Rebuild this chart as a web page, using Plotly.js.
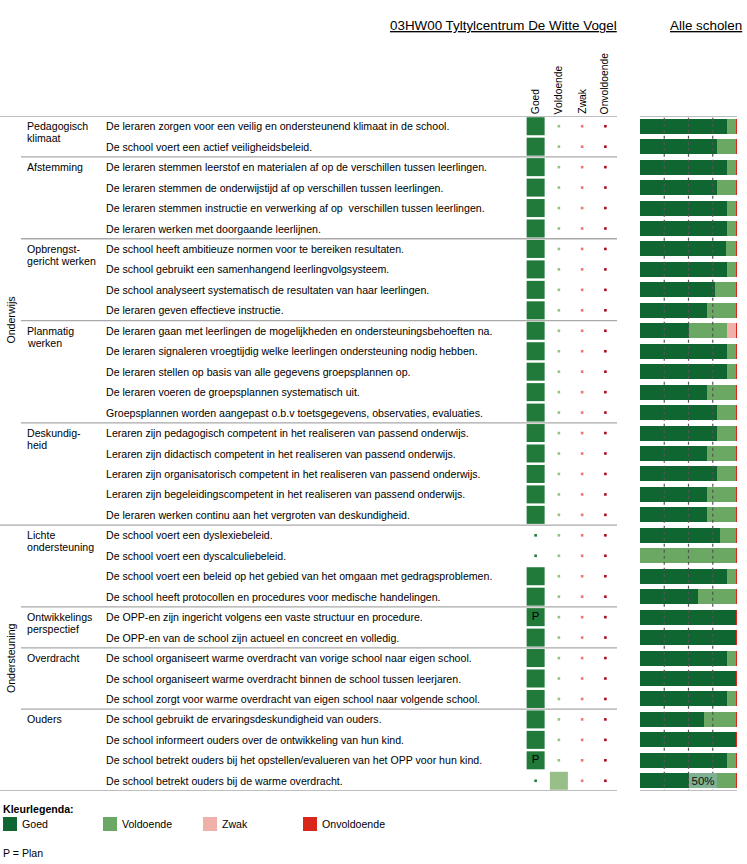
<!DOCTYPE html>
<html><head><meta charset="utf-8">
<script src="https://cdn.plot.ly/plotly-3.0.1.min.js"></script>
<style>html,body{margin:0;padding:0;background:#fff;}#chart{width:747px;height:864px;}</style>
</head><body><div id="chart"></div>
<script>
// ---------------- DATA ----------------
const schoolTitle = "03HW00 Tyltylcentrum De Witte Vogel";
const allTitle = "Alle scholen";
const scoreLabels = ["Goed", "Voldoende", "Zwak", "Onvoldoende"];
const domainNames = ["Onderwijs", "Ondersteuning"];
const domainSizes = [20, 13];
const groupNames = ["Pedagogisch\nklimaat", "Afstemming", "Opbrengst-\ngericht werken", "Planmatig\nwerken", "Deskundig-\nheid", "Lichte\nondersteuning", "Ontwikkelings\nperspectief", "Overdracht", "Ouders"];
const groupSizes = [2, 4, 4, 5, 5, 4, 2, 3, 4];
const statements = [
  "De leraren zorgen voor een veilig en ondersteunend klimaat in de school.",
  "De school voert een actief veiligheidsbeleid.",
  "De leraren stemmen leerstof en materialen af op de verschillen tussen leerlingen.",
  "De leraren stemmen de onderwijstijd af op verschillen tussen leerlingen.",
  "De leraren stemmen instructie en verwerking af op\u00a0 verschillen tussen leerlingen.",
  "De leraren werken met doorgaande leerlijnen.",
  "De school heeft ambitieuze normen voor te bereiken resultaten.",
  "De school gebruikt een samenhangend leerlingvolgsysteem.",
  "De school analyseert systematisch de resultaten van haar leerlingen.",
  "De leraren geven effectieve instructie.",
  "De leraren gaan met leerlingen de mogelijkheden en ondersteuningsbehoeften na.",
  "De leraren signaleren vroegtijdig welke leerlingen ondersteuning nodig hebben.",
  "De leraren stellen op basis van alle gegevens groepsplannen op.",
  "De leraren voeren de groepsplannen systematisch uit.",
  "Groepsplannen worden aangepast o.b.v toetsgegevens, observaties, evaluaties.",
  "Leraren zijn pedagogisch competent in het realiseren van passend onderwijs.",
  "Leraren zijn didactisch competent in het realiseren van passend onderwijs.",
  "Leraren zijn organisatorisch competent in het realiseren van passend onderwijs.",
  "Leraren zijn begeleidingscompetent in het realiseren van passend onderwijs.",
  "De leraren werken continu aan het vergroten van deskundigheid.",
  "De school voert een dyslexiebeleid.",
  "De school voert een dyscalculiebeleid.",
  "De school voert een beleid op het gebied van het omgaan met gedragsproblemen.",
  "De school heeft protocollen en procedures voor medische handelingen.",
  "De OPP-en zijn ingericht volgens een vaste structuur en procedure.",
  "De OPP-en van de school zijn actueel en concreet en volledig.",
  "De school organiseert warme overdracht van vorige school naar eigen school.",
  "De school organiseert warme overdracht binnen de school tussen leerjaren.",
  "De school zorgt voor warme overdracht van eigen school naar volgende school.",
  "De school gebruikt de ervaringsdeskundigheid van ouders.",
  "De school informeert ouders over de ontwikkeling van hun kind.",
  "De school betrekt ouders bij het opstellen/evalueren van het OPP voor hun kind.",
  "De school betrekt ouders bij de warme overdracht."
];
const schoolScore = ["Goed","Goed","Goed","Goed","Goed","Goed","Goed","Goed","Goed","Goed",
  "Goed","Goed","Goed","Goed","Goed","Goed","Goed","Goed","Goed","Goed",
  "","","Goed","Goed","Goed","Goed","Goed","Goed","Goed","Goed","Goed","Goed","Voldoende"];
const planFlags = ["","","","","","","","","","","","","","","","","","","","","","","","","P","","","","","","","P",""];
const allGoed        = [90,79,90,79,90,90,89,90,77,69,50,90,90,69,79,79,69,79,69,69,82,0,90,60,99,99,90,99,90,66,99,90,79];
const allVoldoende   = [9,20,9,20,9,9,10,9,22,30,40,9,9,30,20,20,30,20,30,30,17,99,9,39,0,0,9,0,9,33,0,9,20];
const allZwak        = [0,0,0,0,0,0,0,0,0,0,9,0,0,0,0,0,0,0,0,0,0,0,0,0,0,0,0,0,0,0,0,0,0];
const allOnvoldoende = [1,1,1,1,1,1,1,1,1,1,1,1,1,1,1,1,1,1,1,1,1,1,1,1,1,1,1,1,1,1,1,1,1];
const referenceLines = [25, 50, 75];
const tooltipRow = 32;
const tooltipValue = 50;
const planNote = "P = Plan";
const legendTitle = "Kleurlegenda:";

// ---------------- DRAWING ----------------
const F = "Liberation Sans, Arial, sans-serif";
const W = 747, H = 864;
const px = v => v / W, py = v => 1 - v / H;
const rows = statements.map((_, i) => i);
const nRows = statements.length;

const sqColor = {Goed: '#217a3a', Voldoende: '#98bf87'};
const dotColor = {Goed: '#1f7a3c', Voldoende: '#93c47d', Zwak: '#f4736b', Onvoldoende: '#ae0a1e'};
const barColors = ['#0f6630', '#6aa864', '#f0b0aa', '#d9261c'];

const sq = {x: [], y: [], text: [], color: []};
const dots = {x: [], y: [], color: []};
rows.forEach(i => {
  scoreLabels.forEach((lab, j) => {
    if (schoolScore[i] === lab) { sq.x.push(j); sq.y.push(i); sq.text.push(planFlags[i]); sq.color.push(sqColor[lab]); }
    else { dots.x.push(j); dots.y.push(i); dots.color.push(dotColor[lab]); }
  });
});

const traces = [];
[allGoed, allVoldoende, allZwak, allOnvoldoende].forEach((vals, k) => {
  traces.push({type: 'bar', orientation: 'h', x: vals, y: rows, xaxis: 'x2', yaxis: 'y',
    width: 0.73, marker: {color: barColors[k], line: {width: 0}}, hoverinfo: 'skip', name: scoreLabels[k]});
});
traces.push({type: 'scatter', mode: 'markers+text', x: sq.x, y: sq.y, text: sq.text, xaxis: 'x3', yaxis: 'y',
  textposition: 'middle center', textfont: {family: F, size: 11.5, color: '#000'},
  marker: {symbol: 'square', size: 18, color: sq.color, line: {width: 0}}, hoverinfo: 'skip'});
traces.push({type: 'scatter', mode: 'markers', x: dots.x, y: dots.y, xaxis: 'x3', yaxis: 'y',
  marker: {symbol: 'square', size: 2.6, color: dots.color, line: {width: 0}}, hoverinfo: 'skip'});

const shapes = [];
const annotations = [];
const lineCol = '#a9a9a9';

// separators
let cum = [0];
groupSizes.forEach(s => cum.push(cum[cum.length - 1] + s));
let dcum = [0];
domainSizes.forEach(s => dcum.push(dcum[dcum.length - 1] + s));
cum.forEach(b => {
  const full = dcum.includes(b);
  shapes.push({type: 'line', xref: 'x', yref: 'y', x0: full ? 0 : 21, x1: 617, y0: b - 0.5, y1: b - 0.5,
    line: {color: lineCol, width: 1.3}});
});
shapes.push({type: 'line', xref: 'x2', yref: 'y', x0: 0, x1: 105.2, y0: -0.5, y1: -0.5, line: {color: lineCol, width: 1.3}});
shapes.push({type: 'line', xref: 'x2', yref: 'y', x0: 0, x1: 100, y0: nRows - 0.5, y1: nRows - 0.5, line: {color: lineCol, width: 1.3}});
referenceLines.forEach(v => shapes.push({type: 'line', xref: 'x2', yref: 'y', x0: v, x1: v, y0: -0.42, y1: nRows - 0.55,
  line: {color: '#555', width: 1.2, dash: 'dot'}, layer: 'above'}));

const ann = (o) => Object.assign({showarrow: false, borderpad: 0, borderwidth: 0, font: {family: F, size: 10.6, color: '#000'}}, o);

// titles
annotations.push(ann({xref: 'paper', yref: 'paper', x: px(390), y: py(25), xanchor: 'left', yanchor: 'middle',
  text: '<u>' + schoolTitle + '</u>', font: {family: F, size: 13.4, color: '#000'}}));
annotations.push(ann({xref: 'paper', yref: 'paper', x: px(670), y: py(25), xanchor: 'left', yanchor: 'middle',
  text: '<u>' + allTitle + '</u>', font: {family: F, size: 13.4, color: '#000'}}));
// column headers
scoreLabels.forEach((lab, j) => annotations.push(ann({xref: 'x3', yref: 'paper', x: j, y: py(114), xanchor: 'center', yanchor: 'bottom',
  textangle: -90, text: lab, font: {family: F, size: 10.3, color: '#000'}})));
// statements
statements.forEach((s, i) => annotations.push(ann({xref: 'x', yref: 'y', x: 106, y: i, xanchor: 'left', yanchor: 'middle', text: s})));
// group labels
groupNames.forEach((g, k) => {
  g.split('\n').forEach((line, l) => annotations.push(ann({xref: 'x', yref: 'y', x: 27, y: cum[k], xanchor: 'left', yanchor: 'middle',
    yshift: -12 * l, text: line})));
});
// domain labels
domainNames.forEach((d, k) => annotations.push(ann({xref: 'paper', yref: 'y', x: px(11), y: (dcum[k] + dcum[k + 1] - 1) / 2,
  xanchor: 'center', yanchor: 'middle', textangle: -90, text: d})));
// tooltip artefact
annotations.push(ann({xref: 'x2', yref: 'y', x: 50.5, y: tooltipRow, xanchor: 'left', yanchor: 'middle', width: 28, height: 15,
  bgcolor: 'rgba(170,205,185,0.72)', text: tooltipValue + '%', font: {family: F, size: 11.5, color: '#111'}}));

// legend
annotations.push(ann({xref: 'paper', yref: 'paper', x: px(3), y: py(809), xanchor: 'left', yanchor: 'middle',
  text: '<b>' + legendTitle + '</b>'}));
scoreLabels.forEach((lab, k) => {
  const x0 = 3 + 100 * k;
  shapes.push({type: 'rect', xref: 'paper', yref: 'paper', x0: px(x0), x1: px(x0 + 14), y0: py(831), y1: py(817),
    fillcolor: barColors[k], line: {width: 0}});
  annotations.push(ann({xref: 'paper', yref: 'paper', x: px(x0 + 19), y: py(824), xanchor: 'left', yanchor: 'middle', text: lab}));
});
annotations.push(ann({xref: 'paper', yref: 'paper', x: px(3), y: py(853), xanchor: 'left', yanchor: 'middle', text: planNote}));

const layout = {
  width: W, height: H, margin: {l: 0, r: 0, t: 0, b: 0},
  paper_bgcolor: '#fff', plot_bgcolor: 'rgba(0,0,0,0)', showlegend: false, barmode: 'stack', bargap: 0,
  font: {family: F, size: 10.6, color: '#000'},
  xaxis: {domain: [0, px(617)], range: [0, 617], visible: false, fixedrange: true},
  xaxis2: {domain: [px(640), px(737)], range: [0, 100], visible: false, fixedrange: true, anchor: 'y'},
  xaxis3: {domain: [px(524), px(617)], range: [-0.5, 3.5], visible: false, fixedrange: true, anchor: 'y'},
  yaxis: {domain: [py(791), py(116)], range: [nRows - 0.5, -0.5], visible: false, fixedrange: true},
  shapes: shapes, annotations: annotations
};
Plotly.newPlot('chart', traces, layout, {displayModeBar: false, staticPlot: true});
</script>
</body></html>
